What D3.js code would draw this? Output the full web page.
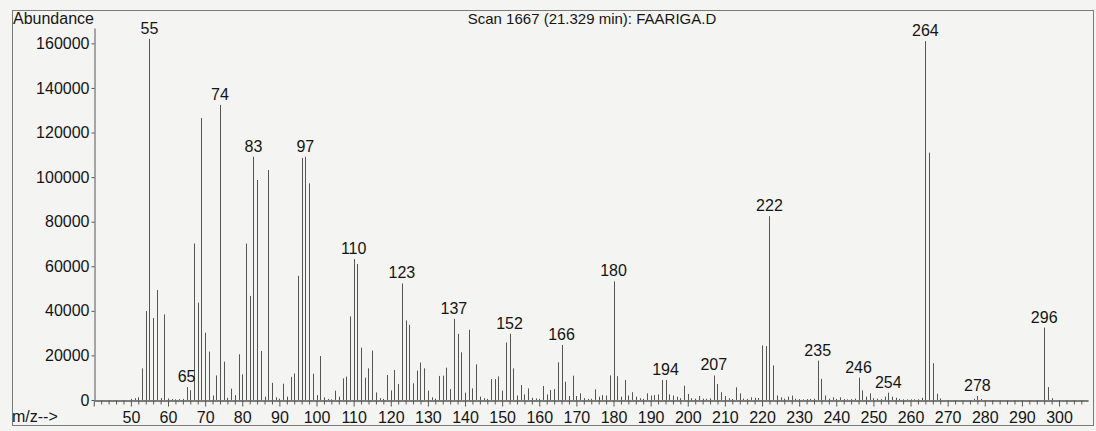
<!DOCTYPE html>
<html><head><meta charset="utf-8">
<script src="https://cdn.jsdelivr.net/npm/d3@7"></script>
<style>
html,body{margin:0;padding:0;background:#f4f4f3;}
svg{display:block;}
text{font-family:Arial,"Liberation Sans",sans-serif;fill:#151515;}
</style></head><body>
<svg id="chart" width="1096" height="431"></svg>
<script>
// ---- data ----
const mz = [
 50,51,52,53,54,55,56,57,58,59,
 60,61,62,63,64,65,66,67,68,69,
 70,71,72,73,74,75,76,77,78,79,
 80,81,82,83,84,85,86,87,88,89,
 90,91,92,93,94,95,96,97,98,99,
 100,101,102,103,104,105,106,107,108,109,
 110,111,112,113,114,115,116,117,118,119,
 120,121,122,123,124,125,126,127,128,129,
 130,131,132,133,134,135,136,137,138,139,
 140,141,142,143,144,145,146,147,148,149,
 150,151,152,153,154,155,156,157,158,159,
 160,161,162,163,164,165,166,167,168,169,
 170,171,172,173,174,175,176,177,178,179,
 180,181,182,183,184,185,186,187,188,189,
 190,191,192,193,194,195,196,197,198,199,
 200,201,202,203,204,205,206,207,208,209,
 210,211,212,213,214,215,216,217,218,219,
 220,221,222,223,224,225,226,227,228,229,
 230,231,232,233,234,235,236,237,238,239,
 240,241,242,243,244,245,246,247,248,249,
 250,251,252,253,254,255,256,257,258,259,
 260,261,262,263,264,265,266,267,268,277,
 278,279,296,297,298
];
const abundance = [
 500,800,1200,14200,39900,162000,36800,49400,900,38400,
 700,400,300,400,500,5800,4400,70200,43700,126500,
 30200,21700,2000,11000,132400,17200,1000,5100,2200,20500,
 11500,70200,46700,109100,98700,22000,1500,103200,7700,1200,
 600,7300,1500,10400,11900,55700,108600,109100,97200,11800,
 2200,19700,1200,500,300,4200,1500,9700,10500,37500,
 63200,61000,23500,10000,14200,22200,3400,800,500,11200,
 4300,13500,7200,52300,35700,33700,7500,13200,16800,14200,
 4200,1200,600,10800,10900,14500,4900,36400,29700,21400,
 3300,31500,5200,16000,1500,800,500,9400,9400,10600,
 4200,25800,29700,14200,2000,6700,2500,5200,1000,700,
 500,6300,2500,4500,4900,16900,24700,8200,1800,10900,
 1800,3000,800,500,600,4800,1500,2200,2000,11000,
 53200,10700,1500,9000,2000,3500,1500,800,500,3000,
 2000,2200,2500,9000,9000,2500,2000,1500,800,6400,
 2700,800,600,1800,600,500,700,11000,7200,3500,
 1800,800,500,5700,3000,600,500,1200,1000,900,
 24500,24200,82500,15500,2000,1200,600,1500,2000,600,
 400,300,400,500,600,17700,9500,2000,600,1200,
 500,1200,400,300,400,600,10000,4300,1500,3000,
 800,600,400,1500,3300,1500,1000,500,300,300,
 300,300,300,1000,161000,111000,16500,2800,700,500,
 1800,500,32500,5800,800
];
const labeledPeaks = [55,65,74,83,97,110,123,137,152,166,180,194,207,222,235,246,254,264,278,296];
const xTickValues = [50,60,70,80,90,100,110,120,130,140,150,160,170,180,190,200,210,220,230,240,250,260,270,280,290,300];
const yTickValues = [0,20000,40000,60000,80000,100000,120000,140000,160000];
const titleText = "Scan 1667 (21.329 min): FAARIGA.D";
const yAxisTitle = "Abundance";
const xAxisTitle = "m/z-->";

// ---- drawing ----
const svg = d3.select("#chart");
const x = d3.scaleLinear().domain([40.2, 307.8]).range([94.5, 1088]);
const y = d3.scaleLinear().domain([0, 166900]).range([400, 28]);

// outer frame
svg.append("rect").attr("x", 12.5).attr("y", 10.5).attr("width", 1081).attr("height", 415)
  .attr("fill", "none").attr("stroke", "#7a7a7a").attr("stroke-width", 1);

// peaks
const peaks = mz.map((m, i) => ({mz: m, v: abundance[i]}));
svg.append("g").selectAll("line").data(peaks).join("line")
  .attr("x1", d => Math.round(x(d.mz)) + 0.5)
  .attr("x2", d => Math.round(x(d.mz)) + 0.5)
  .attr("y1", y(0))
  .attr("y2", d => y(d.v))
  .attr("stroke", "#555").attr("stroke-width", 1);

// y axis
const yAxis = svg.append("g").attr("transform", "translate(94.5,0)")
  .call(d3.axisLeft(y).tickValues(yTickValues).tickSize(3).tickSizeOuter(0).tickPadding(2).tickFormat(d3.format("d")));
yAxis.select(".domain").attr("stroke", "#555");
yAxis.selectAll(".tick line").attr("stroke", "#555");
yAxis.selectAll("text").attr("font-size", 16).attr("font-family", "Arial, 'Liberation Sans', sans-serif").attr("fill", "#151515");

// x axis: minor ticks
const minorTicks = d3.range(42, 308, 2).filter(v => v % 10 !== 0);
svg.append("g").attr("transform", "translate(0,400.5)")
  .call(d3.axisBottom(x).tickValues(minorTicks).tickSize(4).tickSizeOuter(0).tickFormat(""))
  .call(g => g.selectAll("line").attr("stroke", "#555"))
  .call(g => g.select(".domain").attr("stroke", "#555"));
// x axis: major ticks with labels
const xAxis = svg.append("g").attr("transform", "translate(0,400.5)")
  .call(d3.axisBottom(x).tickValues(xTickValues.concat([40])).tickSize(6).tickSizeOuter(0).tickPadding(5)
        .tickFormat(d => d === 40 ? "" : d));
xAxis.select(".domain").attr("stroke", "#555");
xAxis.selectAll(".tick line").attr("stroke", "#555");
xAxis.selectAll("text").attr("font-size", 16).attr("font-family", "Arial, 'Liberation Sans', sans-serif").attr("fill", "#151515");

// peak labels
svg.append("g").selectAll("text").data(peaks.filter(d => labeledPeaks.includes(d.mz))).join("text")
  .attr("x", d => x(d.mz))
  .attr("y", d => y(d.v) - 5)
  .attr("text-anchor", "middle")
  .attr("font-size", 16)
  .text(d => d.mz);

// titles
svg.append("text").attr("x", 13).attr("y", 24).attr("font-size", 16).text(yAxisTitle);
svg.append("text").attr("x", 12).attr("y", 422).attr("font-size", 16).text(xAxisTitle);
svg.append("text").attr("x", 592).attr("y", 24).attr("text-anchor", "middle").attr("font-size", 15).text(titleText);
</script>
</body></html>
